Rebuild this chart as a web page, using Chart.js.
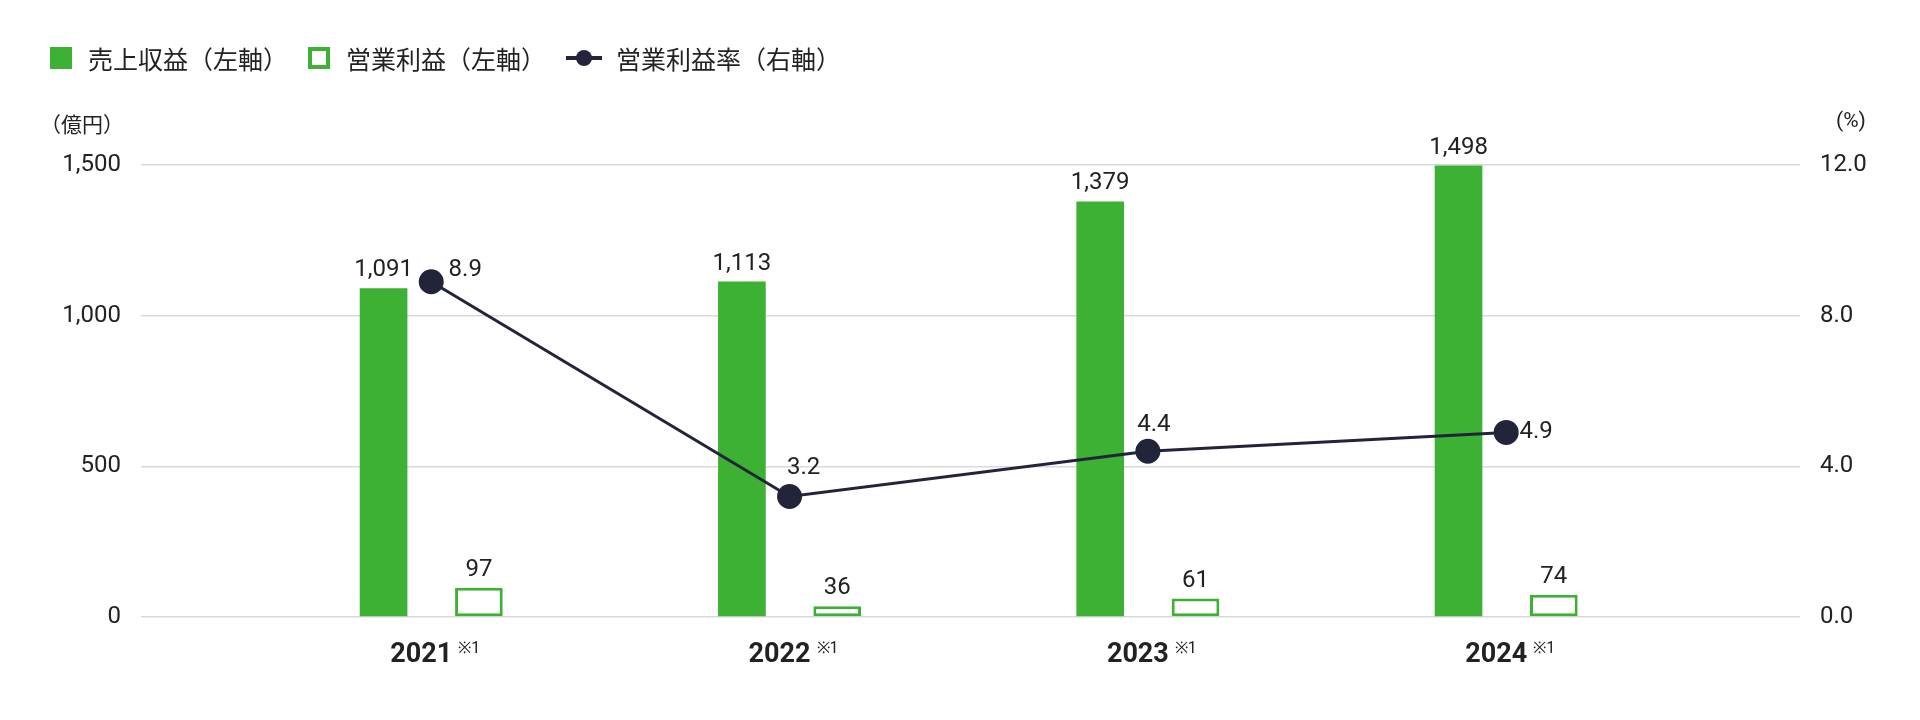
<!DOCTYPE html>
<html><head><meta charset="utf-8">
<script src="https://cdn.jsdelivr.net/npm/chart.js@4"></script>
<style>
body{margin:0;background:#fff;font-family:Roboto,"Noto Sans CJK JP",sans-serif;color:#222}
#wrap{position:relative;width:1920px;height:720px}
#legend{position:absolute;left:50px;top:40px;font-size:25px;display:flex;align-items:center}
#legend span{display:inline-flex;align-items:center;margin-right:20px}
.sw{display:inline-block;width:22px;height:22px;margin-right:16px;box-sizing:border-box}
.unit{position:absolute;top:108px;font-size:21px}
</style></head><body>
<div id="wrap">
<div id="legend">
<span><i class="sw" style="background:#3db134"></i>売上収益（左軸）</span>
<span><i class="sw" style="border:4px solid #3db134"></i>営業利益（左軸）</span>
<span><svg width="36" height="22" style="margin-right:14px"><line x1="0" y1="11" x2="36" y2="11" stroke="#22253a" stroke-width="4"/><circle cx="18" cy="11" r="8" fill="#22253a"/></svg>営業利益率（右軸）</span>
</div>
<div class="unit" style="left:40px">（億円）</div>
<div class="unit" style="left:1836px">(%)</div>
<canvas id="c" width="1920" height="720"></canvas>
</div>
<script>
const years = ['2021', '2022', '2023', '2024'];
const revenue = [1091, 1113, 1379, 1498];
const opProfit = [97, 36, 61, 74];
const opMargin = [8.9, 3.2, 4.4, 4.9];
const leftTicks = [0, 500, 1000, 1500];
const rightTicks = [0, 4, 8, 12];

const green = '#3db134', dark = '#22253a';
const pts = arr => arr.map((v, i) => ({ x: i, y: v }));
const marginOffsets = [[34, -12], [14, -28], [6, -26], [30, 0]];

const labelPlugin = {
  id: 'labels',
  afterDatasetsDraw(chart) {
    const ctx = chart.ctx;
    ctx.save();
    ctx.fillStyle = '#222';
    ctx.font = '24px Roboto';
    ctx.textAlign = 'center';
    ctx.textBaseline = 'bottom';
    [0, 1].forEach(d => {
      chart.getDatasetMeta(d).data.forEach((el, i) => {
        const v = chart.data.datasets[d].data[i].y;
        ctx.fillText(v.toLocaleString('en-US'), el.x, el.y - 6);
      });
    });
    ctx.textBaseline = 'middle';
    chart.getDatasetMeta(2).data.forEach((el, i) => {
      const o = marginOffsets[i];
      ctx.fillText(opMargin[i].toFixed(1), el.x + o[0], el.y + o[1]);
    });
    // year labels
    const xs = chart.scales.x, bottom = chart.chartArea.bottom;
    years.forEach((y, i) => {
      const px = xs.getPixelForValue(i);
      ctx.font = 'bold 27px Roboto';
      const w = ctx.measureText(y).width;
      ctx.textAlign = 'left';
      ctx.fillText(y, px - w / 2 - 10, bottom + 38);
      ctx.font = '16px Roboto';
      ctx.fillText('※1', px + w / 2 - 4, bottom + 32);
    });
    ctx.restore();
  }
};

new Chart(document.getElementById('c'), {
  data: {
    datasets: [
      { type: 'bar', data: pts(revenue), backgroundColor: green, yAxisID: 'y', order: 2,
        categoryPercentage: 0.532, barPercentage: 0.5 },
      { type: 'bar', data: pts(opProfit), backgroundColor: '#fff', borderColor: green, borderWidth: 3,
        borderSkipped: false, yAxisID: 'y', order: 2, categoryPercentage: 0.532, barPercentage: 0.5 },
      { type: 'line', data: pts(opMargin), borderColor: dark, backgroundColor: dark, borderWidth: 3,
        pointRadius: 11, pointHoverRadius: 11, yAxisID: 'y1', order: 1 }
    ]
  },
  options: {
    responsive: false, animation: false,
    layout: { padding: { top: 165, bottom: 95, left: 0, right: 0 } },
    plugins: { legend: { display: false }, tooltip: { enabled: false } },
    scales: {
      x: { type: 'linear', min: -0.81, max: 3.82, offset: false,
        afterBuildTicks: s => { s.ticks = years.map((y, i) => ({ value: i })); },
        ticks: { display: false },
        grid: { display: false }, border: { display: false } },
      y: { position: 'left', min: 0, max: 1500,
        afterBuildTicks: s => { s.ticks = leftTicks.map(v => ({ value: v })); },
        afterFit: s => { s.width = 141; },
        ticks: { font: { size: 24, family: 'Roboto' }, color: '#222', padding: 20,
          callback: v => v.toLocaleString('en-US') },
        grid: { color: '#d9d9d9', lineWidth: 1.5, drawTicks: false }, border: { display: false } },
      y1: { position: 'right', min: 0, max: 12,
        afterBuildTicks: s => { s.ticks = rightTicks.map(v => ({ value: v })); },
        afterFit: s => { s.width = 120; },
        ticks: { font: { size: 24, family: 'Roboto' }, color: '#222', padding: 20,
          callback: v => v.toFixed(1) },
        grid: { display: false, drawTicks: false }, border: { display: false } }
    }
  },
  plugins: [labelPlugin]
});
</script>
</body></html>
